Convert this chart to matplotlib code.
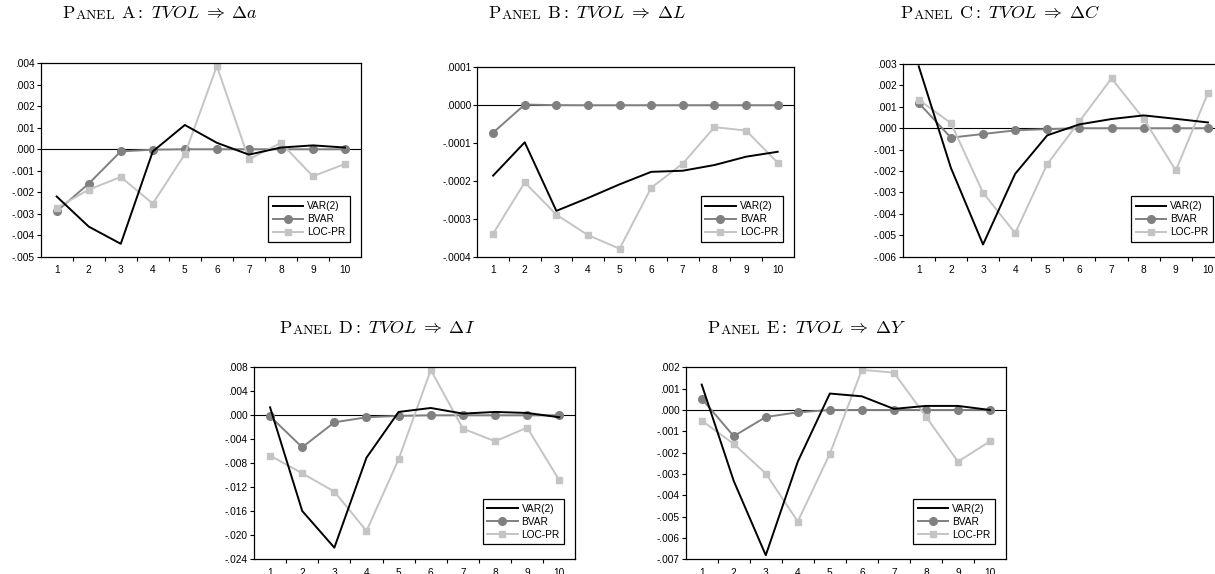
import numpy as np
import matplotlib
matplotlib.use("Agg")
import matplotlib.pyplot as plt
from matplotlib.ticker import FuncFormatter, FixedLocator

plt.rcParams['font.family'] = ['Liberation Sans', 'DejaVu Sans']
plt.rcParams['mathtext.fontset'] = 'cm'

horizon = list(range(1, 11))
labels = ['VAR(2)', 'BVAR', 'LOC-PR']

# Panel A: TVOL => delta a
a_var = [-0.0022, -0.0036, -0.0044, -0.0001, 0.00113, 0.0003, -0.00025, 0.00008, 0.00018, 0.00008]
a_bvar = [-0.00289, -0.0016, -0.0001, -0.00002, 0.0, 0.0, 0.0, 0.0, 0.0, 0.0]
a_loc = [-0.00273, -0.00188, -0.00129, -0.00253, -0.00023, 0.00387, -0.00047, 0.0003, -0.00126, -0.00068]

# Panel B: TVOL => delta L
b_var = [-0.000186, -0.000098, -0.000279, -0.000245, -0.000209, -0.000176, -0.000173, -0.000158, -0.000136, -0.000123]
b_bvar = [-0.0000725, 0.0000016, 0.0000001, -0.0000002, -0.0000002, -0.0000001, -0.0000001, -0.0000001, -0.0000001, -0.0000001]
b_loc = [-0.000339, -0.000204, -0.000289, -0.000343, -0.000379, -0.000218, -0.000154, -0.000058, -0.000067, -0.000152]

# Panel C: TVOL => delta C
c_var = [0.00289, -0.00185, -0.00543, -0.00213, -0.00033, 0.00018, 0.00043, 0.0006, 0.00044, 0.00027]
c_bvar = [0.00118, -0.00044, -0.00027, -0.0001, -0.00004, 0.0, 0.0, 0.0, 0.0, 0.0]
c_loc = [0.00133, 0.00024, -0.00301, -0.0049, -0.00167, 0.00032, 0.00233, 0.00044, -0.00197, 0.00164]

# Panel D: TVOL => delta I
d_var = [0.00133, -0.01594, -0.02206, -0.00706, 0.00056, 0.00122, 0.00028, 0.00056, 0.00039, -0.00033]
d_bvar = [-0.00017, -0.00533, -0.00117, -0.00033, -0.0001, 0.0, 0.0, 0.0, 0.0, 0.0]
d_loc = [-0.00672, -0.00967, -0.01272, -0.01928, -0.00733, 0.00756, -0.00222, -0.00433, -0.00206, -0.01083]

# Panel E: TVOL => delta Y
e_var = [0.00119, -0.00333, -0.00681, -0.00242, 0.00077, 0.00064, 0.00005, 0.00019, 0.00019, 0.0]
e_bvar = [0.00053, -0.00123, -0.00033, -0.00011, 0.0, 0.0, 0.0, 0.0, 0.0, 0.0]
e_loc = [-0.0005, -0.00159, -0.00298, -0.00523, -0.00205, 0.00188, 0.00175, -0.00031, -0.00242, -0.00147]

W, H = 1215, 574
fig = plt.figure(figsize=(W / 100, H / 100), dpi=100)


def fmt(decimals):
    def f(v, pos):
        s = f"{v:.{decimals}f}"
        if s.startswith('-0'):
            s = '-' + s[2:]
        elif s.startswith('0'):
            s = s[1:]
        if s.startswith('-') and float(s) == 0:
            s = s[1:]
        return s
    return FuncFormatter(f)


def panel(box, series, ylim, step, decimals, title_xy, letter, target):
    left, right, top, bottom = box
    ax = fig.add_axes([left / W, 1 - bottom / H, (right - left) / W, (bottom - top) / H])
    ax.axhline(0, color='black', lw=0.8, zorder=1)
    v, b, l = series
    ax.plot(horizon, v, color='black', lw=1.4, label=labels[0], zorder=3)
    ax.plot(horizon, b, color='#808080', lw=1.4, marker='o', ms=5.5, label=labels[1], zorder=2)
    ax.plot(horizon, l, color='#c4c4c4', lw=1.4, marker='s', ms=5, label=labels[2], zorder=2)
    ax.set_xlim(0.5, 10.5)
    ax.set_ylim(*ylim)
    ax.set_xticks(horizon)
    ax.xaxis.set_minor_locator(FixedLocator(np.arange(1.5, 10.5, 1)))
    ax.tick_params(axis='x', which='major', length=0, labelsize=7.3, pad=6)
    ax.tick_params(axis='x', which='minor', length=3, width=0.8, direction='out')
    ax.set_yticks(np.arange(ylim[0], ylim[1] + step / 2, step))
    ax.yaxis.set_major_formatter(fmt(decimals))
    ax.tick_params(axis='y', length=3, width=0.8, direction='out', labelsize=7.3, pad=1.5)
    for s in ax.spines.values():
        s.set_linewidth(0.9)
    leg = ax.legend(loc='lower right', fontsize=7.3, frameon=True, fancybox=False,
                    edgecolor='black', framealpha=1, handlelength=3.0,
                    bbox_to_anchor=(1 - 11 / (right - left), 15 / (bottom - top)),
                    borderaxespad=0, labelspacing=0.3, handletextpad=0.4,
                    borderpad=0.45)
    leg.get_frame().set_linewidth(0.9)

    # small-caps title: "PANEL X: TVOL => target"
    t1 = ax.annotate(r"$\mathrm{P}$", xy=title_xy, xycoords='figure pixels',
                     fontsize=13, va='bottom', ha='left', annotation_clip=False)
    t2 = ax.annotate(r"$\mathrm{ANEL}$", xy=(1, 0), xycoords=t1,
                     fontsize=10, va='bottom', ha='left', annotation_clip=False)
    ax.annotate(r"$\ \mathrm{" + letter + r"}{:}\ TVOL\;\Rightarrow\;\Delta " + target + "$",
                xy=(1, 0), xycoords=t2, fontsize=13, va='bottom', ha='left',
                annotation_clip=False)
    return ax


panel((40.7, 361, 63.3, 256.7), (a_var, a_bvar, a_loc), (-0.005, 0.004), 0.001, 3,
      (62, H - 22), 'A', 'a')
panel((477.3, 793.5, 67.3, 256.7), (b_var, b_bvar, b_loc), (-0.0004, 0.0001), 0.0001, 4,
      (488, H - 22), 'B', 'L')
panel((902.7, 1224, 64, 256.7), (c_var, c_bvar, c_loc), (-0.006, 0.003), 0.001, 3,
      (900, H - 22), 'C', 'C')
panel((254, 575.4, 367.3, 559.3), (d_var, d_bvar, d_loc), (-0.024, 0.008), 0.004, 3,
      (279, H - 337), 'D', 'I')
panel((685.7, 1006, 367.3, 559.3), (e_var, e_bvar, e_loc), (-0.007, 0.002), 0.001, 3,
      (707, H - 337), 'E', 'Y')

fig.savefig('out.png', dpi=100)
